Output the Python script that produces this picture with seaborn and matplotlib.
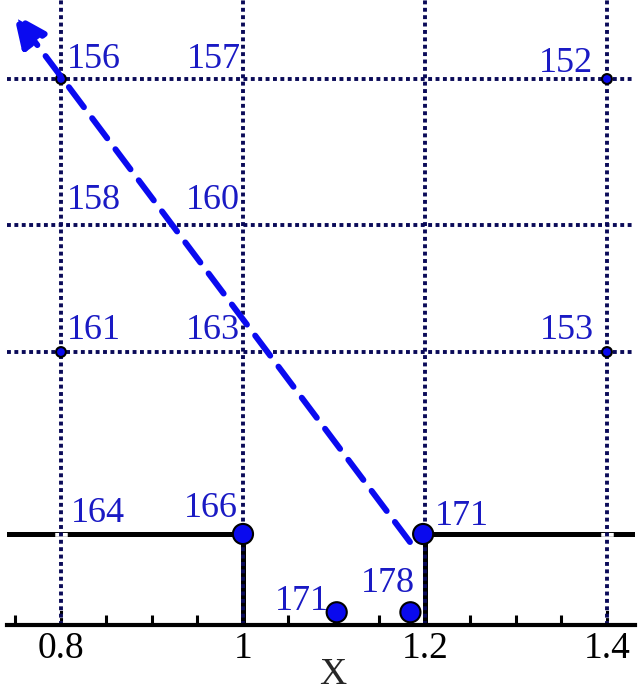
import matplotlib
matplotlib.use("Agg")
import matplotlib.pyplot as plt
import matplotlib.patheffects as pe
import numpy as np
import pandas as pd
import seaborn as sns

# ---- data ----
grid_x = [0.8, 1.0, 1.2, 1.4]
grid_y = [1.5, 2.2, 3.0]

step_x = [0.70, 1.0, 1.0, 1.2, 1.2, 1.50]
step_y = [0.5, 0.5, 0.0, 0.0, 0.5, 0.5]

pt_x = [0.8, 1.4, 0.8, 1.4, 1.0, 1.198, 1.103, 1.184]
pt_y = [3.0, 3.0, 1.5, 1.5, 0.5, 0.5, 0.07, 0.07]
pt_kind = ["small", "small", "small", "small", "large", "large", "large", "large"]

# labels: anchor x, anchor y, text, offsets (px), alignment
lab_x = [0.8, 1.0, 1.4, 0.8, 1.0, 0.8, 1.0, 1.4, 0.8, 1.0, 1.198, 1.103, 1.184]
lab_y = [3.0, 3.0, 3.0, 2.2, 2.2, 1.5, 1.5, 1.5, 0.5, 0.5, 0.5, 0.07, 0.07]
lab_t = ["156", "157", "152", "158", "160", "161", "163", "153", "164", "166", "171", "171", "178"]
lab_dx = [6, -2, -14, 6, -3, 6, -3, -13, 10, -5, 12, -8, 4]
lab_dy = [11, 11, 7, 16, 16, 13, 13, 13, 12, 17, 9, 2, 20]
lab_ha = ["left", "right", "right", "left", "right", "left", "right", "right",
          "left", "right", "left", "right", "right"]

arrow_start = (1.1835, 0.456)
arrow_end = (0.748, 3.36)

xticks_major = [0.8, 1.0, 1.2, 1.4]
xtick_labels = ["0.8", "1", "1.2", "1.4"]

# ---- style ----
sns.set_style("white")
plt.rcParams["font.family"] = ["Liberation Serif", "DejaVu Serif"]

DOT = "#0a0a58"
TXT = "#1a1ac4"
PT = "#0a0aee"

fig = plt.figure(figsize=(6.4, 6.97), dpi=100)
ax = fig.add_axes([7 / 640, 72 / 697, 628 / 640, 625 / 697])
ax.set_xlim(0.7407, 1.4308)
ax.set_ylim(0, 3.434)

# step line
step_df = pd.DataFrame({"x": step_x, "y": step_y})
sns.lineplot(data=step_df, x="x", y="y", sort=False, estimator=None,
             color="black", linewidth=3.6, ax=ax, zorder=1.5)

# dotted grid
DOTSTYLE = (0, (1, 0.9))
for gx in grid_x:
    ln = ax.axvline(gx, color=DOT, linewidth=2.8, linestyle=DOTSTYLE, zorder=1.8)
    if gx not in step_x:
        ln.set_path_effects([pe.Stroke(linewidth=9, foreground="white"), pe.Normal()])
for gy in grid_y:
    ax.axhline(gy, color=DOT, linewidth=2.8, linestyle=DOTSTYLE, zorder=1.9)

# points
pt_df = pd.DataFrame({"x": pt_x, "y": pt_y, "kind": pt_kind})
sns.scatterplot(data=pt_df, x="x", y="y", size="kind",
                sizes={"small": 50, "large": 210}, color=PT,
                edgecolor="black", linewidth=1.5, legend=False, ax=ax, zorder=3)

# dashed arrow
ax.annotate("", xy=arrow_end, xytext=arrow_start,
            arrowprops=dict(arrowstyle="-|>,head_length=1.0,head_width=0.45",
                            mutation_scale=20, lw=4.3, linestyle=(0, (4.2, 2.3)),
                            color="#0a0af0", shrinkA=0, shrinkB=0),
            zorder=4)

# labels
for x, y, t, dx, dy, ha in zip(lab_x, lab_y, lab_t, lab_dx, lab_dy, lab_ha):
    ax.annotate(t, xy=(x, y), xytext=(dx, dy), textcoords="offset pixels",
                ha=ha, va="baseline", fontsize=26, color=TXT, zorder=5)

# axes styling
for s in ["left", "right", "top"]:
    ax.spines[s].set_visible(False)
ax.spines["bottom"].set_linewidth(3)
ax.spines["bottom"].set_color("black")
ax.set_yticks([])
ax.set_xticks(xticks_major)
ax.set_xticklabels(xtick_labels)
ax.set_xticks(np.arange(0.75, 1.431, 0.05), minor=True)
ax.tick_params(axis="x", which="major", direction="in", length=11, width=2.2,
               labelsize=27, pad=5, colors="black", bottom=True)
ax.tick_params(axis="x", which="minor", direction="in", length=7, width=2.2,
               bottom=True, colors="black")
ax.set_xlabel("X", fontsize=27)
ax.xaxis.set_label_coords((333 - 7) / 628, -32 / 625)
ax.set_ylabel("")
ax.set_facecolor("white")

fig.savefig("out.png", dpi=100)
